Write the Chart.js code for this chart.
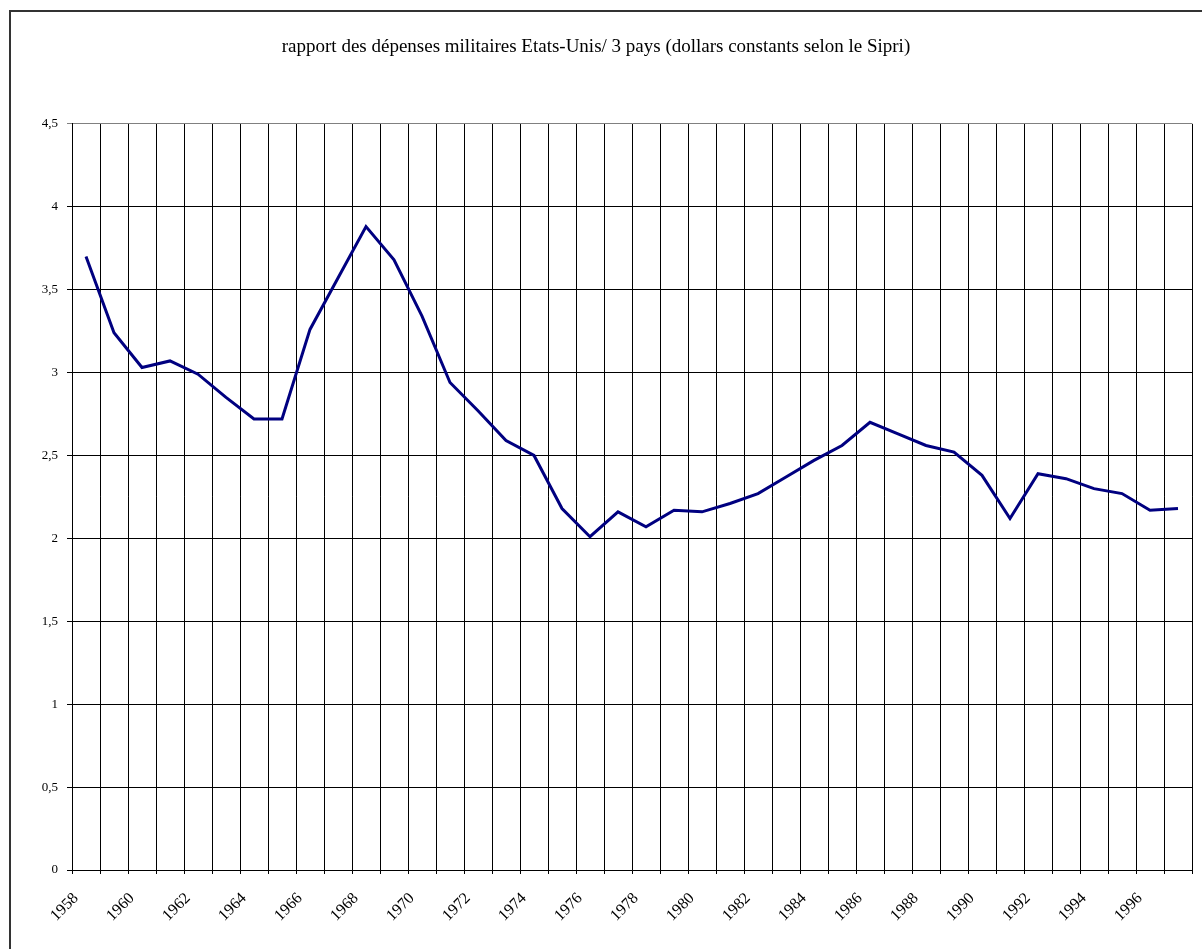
<!DOCTYPE html>
<html>
<head>
<meta charset="utf-8">
<script src="https://cdn.jsdelivr.net/npm/chart.js@4"></script>
<style>
  body { margin: 0; background: #fff; }
  canvas { display: block; }
</style>
</head>
<body>
<canvas id="ratio" width="1202" height="949"></canvas>
<script>
// années 1958 - 1997
const years = [
  "1958", "1959", "1960", "1961", "1962", "1963", "1964", "1965", "1966", "1967",
  "1968", "1969", "1970", "1971", "1972", "1973", "1974", "1975", "1976", "1977",
  "1978", "1979", "1980", "1981", "1982", "1983", "1984", "1985", "1986", "1987",
  "1988", "1989", "1990", "1991", "1992", "1993", "1994", "1995", "1996", "1997"
];
// rapport US / 3 pays
const ratio = [
  3.70, 3.24, 3.03, 3.07, 2.99, 2.85, 2.72, 2.72, 3.26, 3.57,
  3.88, 3.68, 3.34, 2.94, 2.77, 2.59, 2.50, 2.18, 2.01, 2.16,
  2.07, 2.17, 2.16, 2.21, 2.27, 2.37, 2.47, 2.56, 2.70, 2.63,
  2.56, 2.52, 2.38, 2.12, 2.39, 2.36, 2.30, 2.27, 2.17, 2.18
];
const yTicks = [0, 0.5, 1, 1.5, 2, 2.5, 3, 3.5, 4, 4.5];

const frame = {
    id: 'frame',
    afterDraw(chart) {
        const ctx = chart.ctx;
        ctx.save();
        ctx.strokeStyle = '#333333';
        ctx.lineWidth = 2;
        ctx.strokeRect(10, 11, 1300, 1000);
        ctx.restore();
    }
};

new Chart(document.getElementById("ratio").getContext('2d'), {
    type: 'line',
    data: {
        labels: years,
        datasets: [{
            data: ratio,
            borderColor: '#000080',
            borderWidth: 3,
            pointRadius: 0,
            tension: 0,
            fill: false
        }]
    },
    options: {
        responsive: false,
        animation: false,
        layout: { padding: { left: 0, right: 10, top: 0, bottom: 0 } },
        plugins: {
            legend: { display: false },
            tooltip: { enabled: false },
            title: {
                display: true,
                text: 'rapport des dépenses militaires Etats-Unis/ 3 pays (dollars constants selon le Sipri)',
                color: '#000',
                font: { family: 'Liberation Serif', size: 19, weight: 'normal', lineHeight: 1.2 },
                padding: { top: 36, bottom: 65 }
            }
        },
        scales: {
            x: {
                offset: true,
                grid: {
                    offset: true,
                    color: (c) => c.index === years.length ? '#808080' : '#000',
                    lineWidth: 1,
                    tickLength: 4
                },
                border: { color: '#000', width: 1 },
                ticks: {
                    autoSkip: false,
                    minRotation: 45,
                    maxRotation: 45,
                    color: '#000',
                    font: { family: 'Liberation Serif', size: 16 },
                    padding: 15,
                    labelOffset: -10,
                    callback: (v, i) => i % 2 === 0 ? years[i] : ''
                },
                afterFit: (s) => {
                    s.height = 79;
                    s.paddingLeft = 0;
                    s.paddingRight = 0;
                }
            },
            y: {
                min: 0,
                max: 4.5,
                afterBuildTicks: (s) => { s.ticks = yTicks.map(v => ({ value: v })); },
                grid: {
                    color: (c) => c.tick && c.tick.value === 4.5 ? '#808080' : '#000',
                    lineWidth: 1,
                    tickLength: 5
                },
                border: { color: '#000', width: 1 },
                ticks: {
                    color: '#000',
                    font: { family: 'Liberation Serif', size: 13 },
                    padding: 9,
                    callback: (v) => String(v).replace('.', ',')
                },
                afterFit: (s) => { s.width = 72; }
            }
        }
    },
    plugins: [frame]
});
</script>
</body>
</html>
